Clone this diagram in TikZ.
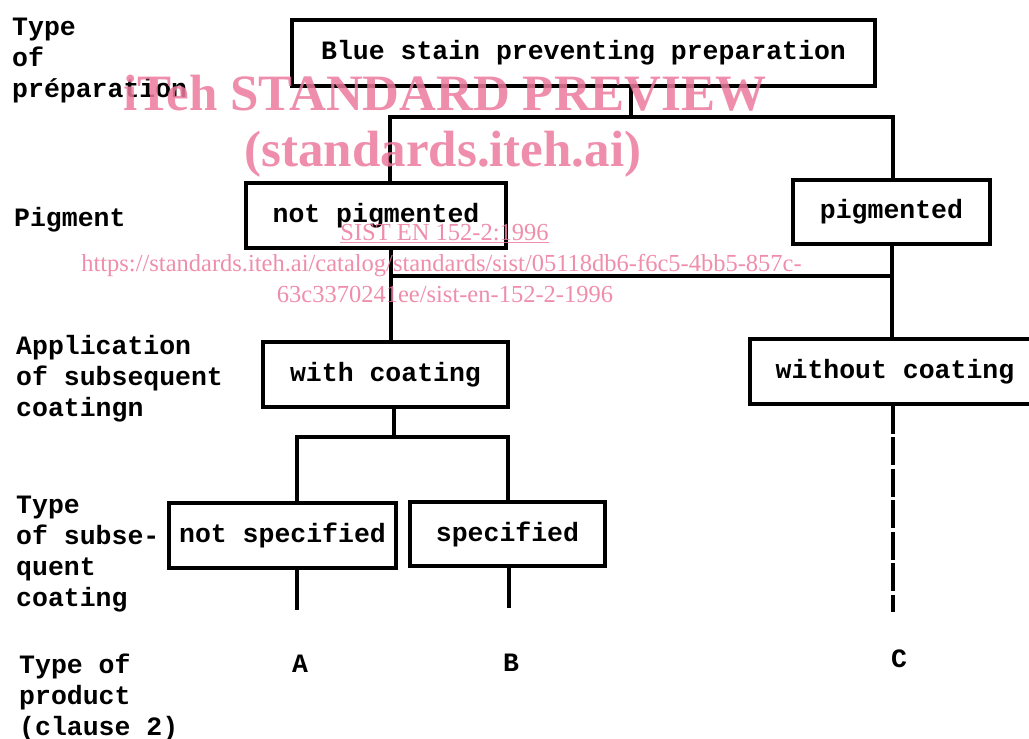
\documentclass[tikz,border=0pt]{standalone}
\usepackage{fontspec}
\setmonofont{Liberation Mono}
\newfontfamily\wmserif{Liberation Serif}
\definecolor{wmpink}{RGB}{236,122,158}
\begin{document}
\begin{tikzpicture}[x=1pt,y=-1pt,
  tw/.style={font=\ttfamily\bfseries\fontsize{26.5}{31}\selectfont},
  box/.style={tw, draw, line width=3.2pt, inner sep=0pt, minimum height=65pt},
  lbl/.style={tw, align=left, anchor=north west, inner sep=0pt},
  wire/.style={line width=3.2pt},
  wm/.style={text=wmpink, text opacity=0.85, inner sep=0pt, anchor=base},
  wmbig/.style={wm, font=\wmserif\bfseries\fontsize{51}{51}\selectfont},
  wmsmall/.style={wm, font=\wmserif\fontsize{24.5}{24.5}\selectfont}]
\useasboundingbox (0,0) rectangle (1029,739);
\clip (0,0) rectangle (1029,739);

% row headings
\node[lbl] (hprep) at (12,17.5) {Type\\of\\préparation};
\node[lbl] (hpig) at (14,207.5) {Pigment};
\node[lbl] (happ) at (16,335) {Application\\of subsequent\\coatingn};
\node[lbl] (htype) at (16,496) {Type\\of subse-\\quent\\coating};
\node[lbl] (hprod) at (19,654) {Type of\\product\\(clause 2)};

% decision boxes
\node[box, minimum width=583pt, minimum height=66pt] (prep) at (583.5,53) {Blue stain preventing preparation};
\node[box, minimum width=260pt] (notpig) at (376,215.5) {not pigmented};
\node[box, minimum width=197pt, minimum height=64pt] (pig) at (891.5,212) {pigmented};
\node[box, minimum width=245pt] (withc) at (385.5,374.5) {with coating};
\node[box, minimum width=290pt] (without) at (895,371.5) {without coating};
\node[box, minimum width=227pt] (notspec) at (282.5,535.5) {not specified};
\node[box, minimum width=195pt, minimum height=64pt] (spec) at (507.5,534) {specified};

% product types
\node[tw, inner sep=0pt] (pA) at (300,663.5) {A};
\node[tw, inner sep=0pt] (pB) at (511,663) {B};
\node[tw, inner sep=0pt] (pC) at (899,658.5) {C};

% junction points of the tree
\coordinate (b1) at (631,117);
\coordinate (c1) at (391,276);
\coordinate (c2) at (892,276);
\coordinate (d0) at (394,437);
\coordinate (dA) at (297,437);
\coordinate (dB) at (508,437);
\coordinate (eA) at (297,610);
\coordinate (eB) at (509,608);
\coordinate (eC) at (893,612);

% connectors
\draw[wire] (b1 |- prep.south) -- (b1);
\draw[wire] ([xshift=14pt]notpig.north) |- (b1) -| ([xshift=1.5pt]pig.north);
\draw[wire] (c1 |- notpig.south) -- (c1 |- withc.north);
\draw[wire] (c2 |- pig.south) -- (c2 |- without.north);
\draw[wire] (c1) -- (c2);
\draw[wire] (d0 |- withc.south) -- (d0);
\draw[wire] (dA |- notspec.north) |- (d0) -| (dB |- spec.north);
\draw[wire] (eA |- notspec.south) -- (eA);
\draw[wire] (eB |- spec.south) -- (eB);
\draw[wire, dash pattern=on 28pt off 3.5pt] (eC |- without.south) -- (eC);

% overprinted stamp
\node[wmbig] (wm1) at (445,110) {iTeh STANDARD PREVIEW};
\node[wmbig] (wm2) at (443,166) {(standards.iteh.ai)};
\node[wmsmall] (wm3) at (444.5,240) {\underline{SIST EN 152-2:1996}};
\node[wmsmall] (wm4) at (441.5,271) {https://standards.iteh.ai/catalog/standards/sist/05118db6-f6c5-4bb5-857c-};
\node[wmsmall] (wm5) at (445,302) {63c3370241ee/sist-en-152-2-1996};
\end{tikzpicture}
\end{document}
